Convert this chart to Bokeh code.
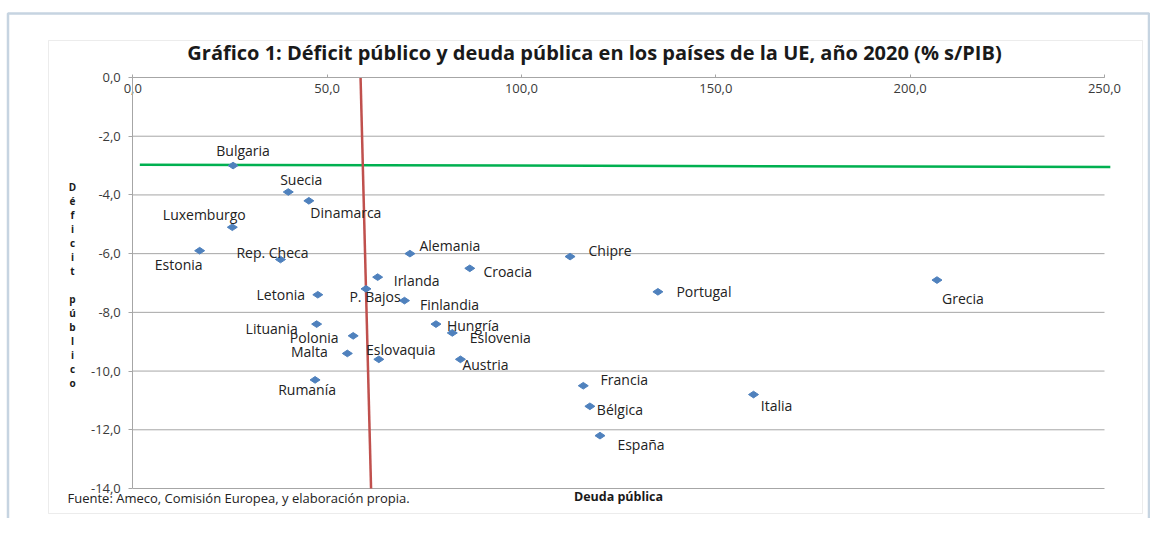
import math
from bokeh.plotting import figure
from bokeh.models import (ColumnDataSource, LabelSet, Label, Range1d, FixedTicker,
                          CustomJSTickFormatter, BoxAnnotation)
from bokeh.core.properties import value
from bokeh.embed import file_html
from bokeh.resources import INLINE

# ---------------- data ----------------
paises = ["Bulgaria", "Suecia", "Dinamarca", "Luxemburgo", "Estonia", "Rep. Checa",
          "Alemania", "Irlanda", "P. Bajos", "Letonia", "Finlandia", "Croacia",
          "Lituania", "Polonia", "Malta", "Eslovaquia", "Hungría", "Eslovenia",
          "Austria", "Rumanía", "Chipre", "Portugal", "Francia", "Bélgica",
          "Italia", "España", "Grecia"]
deuda = [25.8, 40.0, 45.3, 25.6, 17.2, 38.0,
         71.3, 63.0, 60.0, 47.6, 69.9, 86.7,
         47.3, 56.7, 55.2, 63.3, 78.0, 82.2,
         84.3, 46.9, 112.5, 135.1, 115.9, 117.6,
         159.7, 120.2, 206.9]
deficit = [-3.0, -3.9, -4.2, -5.1, -5.9, -6.2,
           -6.0, -6.8, -7.2, -7.4, -7.6, -6.5,
           -8.4, -8.8, -9.4, -9.6, -8.4, -8.7,
           -9.6, -10.3, -6.1, -7.3, -10.5, -11.2,
           -10.8, -12.2, -6.9]

x_ticks = [0, 50, 100, 150, 200, 250]
y_ticks = [-14, -12, -10, -8, -6, -4, -2, 0]

# reference lines (as drawn in the original)
limite_deuda_x = [58.6, 61.3]
limite_deuda_y = [0.0, -14.0]
limite_deficit_x = [1.8, 251.5]
limite_deficit_y = [-2.97, -3.05]

titulo = "Gráfico 1: Déficit público y deuda pública en los países de la UE, año 2020 (% s/PIB)"
titulo_y = "Déficit público"
titulo_x = "Deuda pública"
fuente = "Fuente: Ameco, Comisión Europea, y elaboración propia."

# ---------------- label placement (screen px, centre of text vs. point) ----------------
etiqueta_dx = [10, 13, 37, -28, -21, -8,
               40, 39, 9, -37, 45, 38,
               -45, -39, -38, 22, 37, 48,
               25, -8, 40, 46, 41, 30,
               23, 41, 26]
etiqueta_dy = [-15, -12, 12, -13, 14, -7,
               -8, 3, 8, 0, 4, 3,
               4, 2, -2, -10, 1, 5,
               5, 10, -6, 0, -6, 3,
               11, 9, 18]

# ---------------- layout: whole canvas is the frame ----------------
W, H = 1150, 518
X0_PX, X250_PX = 132.3, 1104.0     # where 0 and 250 of the debt axis fall
Y0_PX, Y14_PX = 77.0, 488.0        # where 0 and -14 of the deficit axis fall
ppx = (X250_PX - X0_PX) / 250.0
ppy = (Y14_PX - Y0_PX) / 14.0


def dx_(fx):
    return (fx - X0_PX) / ppx


def dy_(fy):
    return -(fy - Y0_PX) / ppy


src = ColumnDataSource(dict(
    pais=paises, deuda=deuda, deficit=deficit,
    dx=etiqueta_dx, dy=[-d for d in etiqueta_dy],
))

p = figure(width=W, height=H, output_backend="svg", toolbar_location=None,
           x_range=Range1d(dx_(0), dx_(W)), y_range=Range1d(dy_(H), dy_(0)),
           min_border=0, min_border_left=0, min_border_right=0,
           min_border_top=0, min_border_bottom=0)
p.outline_line_color = None
p.background_fill_color = "white"
p.border_fill_color = "white"
p.grid.visible = False

fmt = CustomJSTickFormatter(code="return tick.toFixed(1).replace('.', ',');")
FONT = "Open Sans"
AX = "#A6A6A6"

# x axis along y = 0 (top of the plot area), labels below the line
p.xaxis.ticker = FixedTicker(ticks=x_ticks)
p.xaxis.formatter = fmt
p.xaxis.fixed_location = 0
p.xaxis.bounds = (0, 250)
p.xaxis.major_tick_in = 3
p.xaxis.major_tick_out = 0
p.xaxis.minor_tick_line_color = None
p.xaxis.axis_line_color = AX
p.xaxis.major_tick_line_color = AX
p.xaxis.major_label_standoff = 6
p.xaxis.major_label_text_font = FONT
p.xaxis.major_label_text_font_size = "13px"
p.xaxis.major_label_text_color = "#3a3a3a"

# y axis along x = 0
p.yaxis.ticker = FixedTicker(ticks=y_ticks)
p.yaxis.formatter = fmt
p.yaxis.fixed_location = 0
p.yaxis.bounds = (-14, 0)
p.yaxis.major_tick_in = 0
p.yaxis.major_tick_out = 4
p.yaxis.minor_tick_line_color = None
p.yaxis.axis_line_color = AX
p.yaxis.major_tick_line_color = AX
p.yaxis.major_label_standoff = 8
p.yaxis.major_label_text_font = FONT
p.yaxis.major_label_text_font_size = "13px"
p.yaxis.major_label_text_color = "#3a3a3a"

# horizontal gridlines at the deficit ticks, over the debt axis span
p.segment(x0=[x_ticks[0]] * len(y_ticks), x1=[x_ticks[-1]] * len(y_ticks),
          y0=y_ticks, y1=y_ticks, line_color=AX, line_width=1)

# frames
p.add_layout(BoxAnnotation(left=dx_(48), right=dx_(1142), top=dy_(40), bottom=dy_(513),
                           fill_alpha=0, line_color="#BFBFBF", line_width=1, level="underlay"))
p.add_layout(BoxAnnotation(left=dx_(7.5), right=dx_(1148.5), top=dy_(13), bottom=dy_(560),
                           fill_alpha=0, line_color="#41719C", line_width=2.5, level="underlay"))

# reference lines
p.line(limite_deficit_x, limite_deficit_y, line_color="#00B050", line_width=2.5)
p.line(limite_deuda_x, limite_deuda_y, line_color="#C0504D", line_width=2.5)

# points
p.scatter(x="deuda", y="deficit", source=src, marker="diamond", size=10,
          angle=math.pi / 2, fill_color="#4F81BD", line_color="#4F81BD")

p.add_layout(LabelSet(x="deuda", y="deficit", text="pais", source=src,
                      x_offset="dx", y_offset="dy", text_align="center",
                      text_baseline="middle", text_font=value(FONT),
                      text_font_size="14px", text_color="#222222"))

# texts
p.add_layout(Label(x=dx_(594), y=dy_(52), text=titulo, text_align="center",
                   text_baseline="middle", text_font=FONT, text_font_size="20px",
                   text_font_style="bold", text_color="#1a1a1a"))
p.add_layout(Label(x=dx_(72), y=dy_(284), text="\n".join(list(titulo_y)),
                   text_align="center", text_baseline="middle", text_font=FONT,
                   text_font_size="10px", text_font_style="bold",
                   text_line_height=1.0, text_color="#1a1a1a"))
p.add_layout(Label(x=dx_(67), y=dy_(497), text=fuente, text_align="left",
                   text_baseline="middle", text_font=FONT, text_font_size="13px",
                   text_color="#222222"))
p.add_layout(Label(x=dx_(618), y=dy_(496), text=titulo_x, text_align="center",
                   text_baseline="middle", text_font=FONT, text_font_size="12.5px",
                   text_font_style="bold", text_color="#1a1a1a"))

open("out.html", "w").write(file_html(p, INLINE))
